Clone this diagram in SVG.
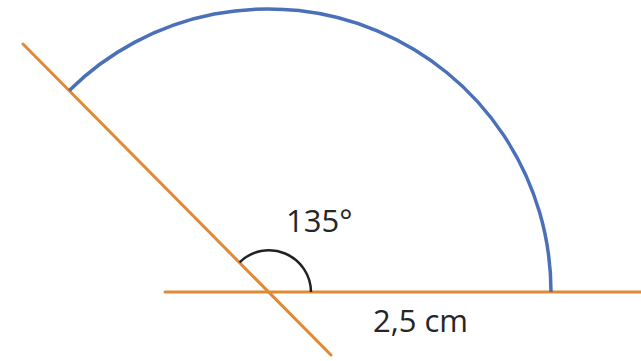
<svg xmlns="http://www.w3.org/2000/svg" width="641" height="361" viewBox="0 0 641 361">
<style>
.ln{stroke:#E08A35;stroke-width:3;fill:none;stroke-linecap:round}
.arc{stroke:#4A70B8;stroke-width:3.5;fill:none}
.ang{stroke:#222;stroke-width:2.5;fill:none}
.t{font-family:"Open Sans","Liberation Sans",sans-serif;font-size:31px;fill:#262626}
</style>
<rect width="641" height="361" fill="#fff"/>
<g id="connectors">
<line class="ln" x1="165" y1="292" x2="641" y2="292"/>
<line class="ln" x1="23" y1="44" x2="331" y2="355"/>
</g>
<g id="arc"><path class="arc" d="M 69.3 90.4 A 283 283 0 0 1 551 292"/></g>
<g id="angle"><path class="ang" d="M 239.6 262.3 A 42 42 0 0 1 311 292"/></g>
<g id="label-angle"><text class="t" x="286" y="232">135°</text></g>
<g id="label-length"><text class="t" x="373" y="332">2,5 cm</text></g>
</svg>
